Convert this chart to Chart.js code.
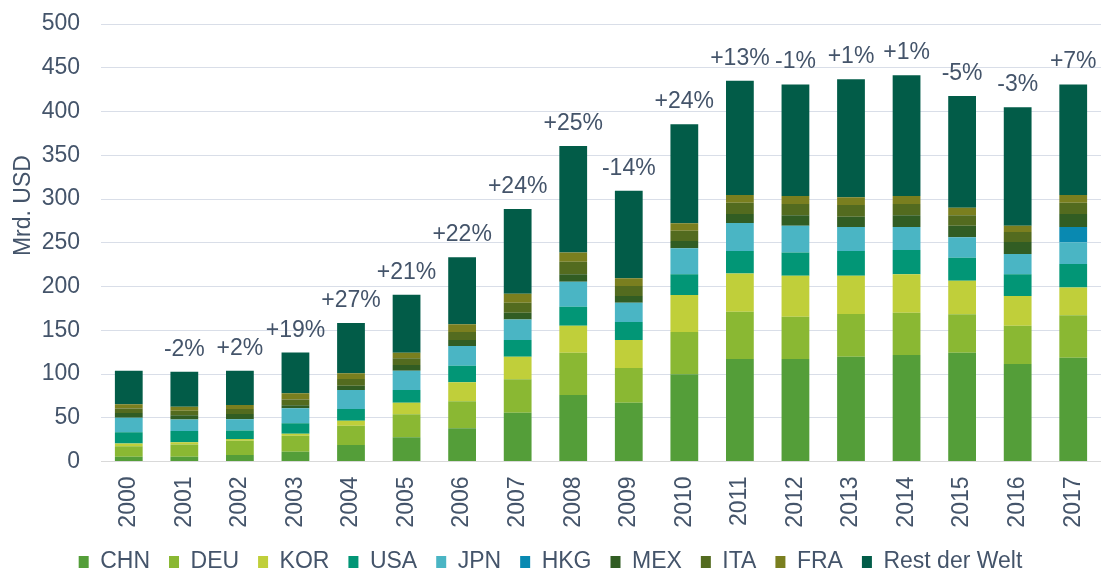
<!DOCTYPE html>
<html>
<head>
<meta charset="utf-8">
<script src="https://cdn.jsdelivr.net/npm/chart.js@4/dist/chart.umd.min.js"></script>
<style>
  html, body { margin: 0; padding: 0; background: #ffffff; }
  #wrap { width: 1101px; height: 573px; position: relative; }
</style>
</head>
<body>
<div id="wrap"><canvas id="c" width="1101" height="573"></canvas></div>
<script>
const years = ['2000','2001','2002','2003','2004','2005','2006','2007','2008','2009','2010','2011','2012','2013','2014','2015','2016','2017'];
const growthLabels = ['', '-2%', '+2%', '+19%', '+27%', '+21%', '+22%', '+24%', '+25%', '-14%', '+24%', '+13%', '-1%', '+1%', '+1%', '-5%', '-3%', '+7%'];
const yAxisTitle = 'Mrd. USD';

const chn  = [5.5, 5.5, 7.4, 11.2, 18.9, 27.6, 38.0, 55.8, 76.0, 67.2, 99.6, 117.1, 117.1, 119.8, 121.7, 124.3, 111.4, 118.6];
const deu  = [12.0, 14.0, 16.4, 18.3, 22.0, 26.4, 31.0, 38.2, 48.3, 39.7, 48.4, 54.1, 48.4, 48.8, 48.4, 43.9, 43.8, 48.5];
const kor  = [3.0, 2.5, 2.0, 2.3, 5.7, 13.2, 21.5, 25.8, 30.9, 32.0, 42.3, 43.8, 46.9, 43.8, 43.9, 38.4, 33.9, 31.9];
const usa  = [13.0, 13.0, 9.5, 11.8, 13.4, 14.5, 19.0, 19.0, 21.8, 20.5, 23.7, 25.6, 26.6, 28.2, 27.7, 26.3, 24.9, 26.7];
const jpn  = [16.5, 13.0, 13.0, 17.2, 21.7, 22.0, 22.5, 23.6, 28.5, 22.1, 29.7, 32.0, 30.5, 27.4, 26.3, 23.3, 23.1, 24.8];
const hkg  = [0, 0, 0, 0, 0, 0, 0, 0, 0, 0, 0, 0, 0, 0, 0, 0, 0, 17.5];
const mex  = [5.5, 5.0, 6.0, 3.4, 4.9, 6.5, 6.9, 7.5, 8.5, 7.6, 8.3, 10.3, 11.9, 11.8, 13.4, 13.3, 13.8, 14.9];
const ita  = [5.0, 5.0, 5.6, 6.8, 7.7, 7.7, 9.1, 11.5, 14.3, 11.5, 11.8, 12.9, 12.9, 13.3, 12.9, 11.9, 11.4, 12.9];
const fra  = [5.0, 4.6, 4.6, 7.0, 6.5, 6.3, 8.8, 10.3, 10.7, 8.8, 8.4, 8.8, 9.1, 8.9, 9.1, 8.6, 7.2, 8.8];
const rest = [38.3, 40.0, 39.3, 46.5, 57.5, 66.4, 76.6, 96.9, 121.6, 100.1, 113.2, 130.6, 127.6, 134.8, 138.0, 127.7, 135.3, 126.4];

const seriesNames  = ['CHN', 'DEU', 'KOR', 'USA', 'JPN', 'HKG', 'MEX', 'ITA', 'FRA', 'Rest der Welt'];
const seriesData   = [chn, deu, kor, usa, jpn, hkg, mex, ita, fra, rest];
const seriesColors = ['#549e39', '#8ab833', '#c0cf3a', '#029676', '#4ab5c4', '#0989b1', '#315d23', '#536b1f', '#7a7f1f', '#025c48'];

const TEXT = '#44546a';
const FONT = 'Liberation Sans, Arial, sans-serif';

const growthPlugin = {
  id: 'growth',
  afterLayout(chart) {
    const lg = chart.legend;
    if (lg) { lg.top += 3.5; lg.bottom += 3.5; }
  },
  afterDatasetsDraw(chart) {
    const ctx = chart.ctx;
    const xs = chart.scales.x, ys = chart.scales.y;
    ctx.save();
    ctx.font = '23px ' + FONT;
    ctx.fillStyle = TEXT;
    ctx.textAlign = 'center';
    ctx.textBaseline = 'alphabetic';
    years.forEach((y, i) => {
      if (!growthLabels[i]) return;
      const total = seriesData.reduce((s, arr) => s + arr[i], 0);
      const px = xs.getPixelForValue(i);
      const py = ys.getPixelForValue(total);
      ctx.fillText(growthLabels[i], px, py - 16);
    });
    // y axis title
    const ca = chart.chartArea;
    ctx.translate(24, ca.top + (ca.bottom - ca.top) * 0.415);
    ctx.rotate(-Math.PI / 2);
    ctx.textBaseline = 'middle';
    ctx.fillText(yAxisTitle, 0, 0);
    ctx.restore();
  }
};

new Chart(document.getElementById('c'), {
  type: 'bar',
  data: {
    labels: years,
    datasets: seriesNames.map((n, k) => ({
      label: n,
      data: seriesData[k],
      backgroundColor: seriesColors[k],
      borderWidth: 0,
      barPercentage: 0.5,
      categoryPercentage: 1.0
    }))
  },
  options: {
    responsive: false,
    animation: false,
    layout: { padding: { top: 24, right: 0, left: 0, bottom: -7 } },
    plugins: {
      legend: {
        position: 'bottom',
        labels: {
          color: TEXT,
          font: { family: FONT, size: 23 },
          boxWidth: 10,
          boxHeight: 12,
          padding: 19
        }
      },
      tooltip: { enabled: false }
    },
    scales: {
      x: {
        stacked: true,
        grid: { display: false, drawTicks: false },
        border: { display: true, color: '#d9d9d9', width: 1 },
        ticks: {
          color: TEXT,
          font: { family: FONT, size: 23 },
          minRotation: 90,
          maxRotation: 90,
          padding: 15
        },
        afterFit(scale) {
          scale.height = 66.5;
          scale.paddingLeft = 0;
          scale.paddingRight = 0;
        }
      },
      y: {
        stacked: true,
        min: 0,
        max: 500,
        grid: { color: '#d9dee8', lineWidth: 1, drawTicks: false },
        border: { display: false },
        ticks: {
          stepSize: 50,
          color: TEXT,
          font: { family: FONT, size: 23 },
          padding: 21
        },
        afterFit(scale) {
          scale.width = 101;
          scale.paddingTop = 0;
          scale.paddingBottom = 0;
        }
      }
    }
  },
  plugins: [growthPlugin]
});
</script>
</body>
</html>
